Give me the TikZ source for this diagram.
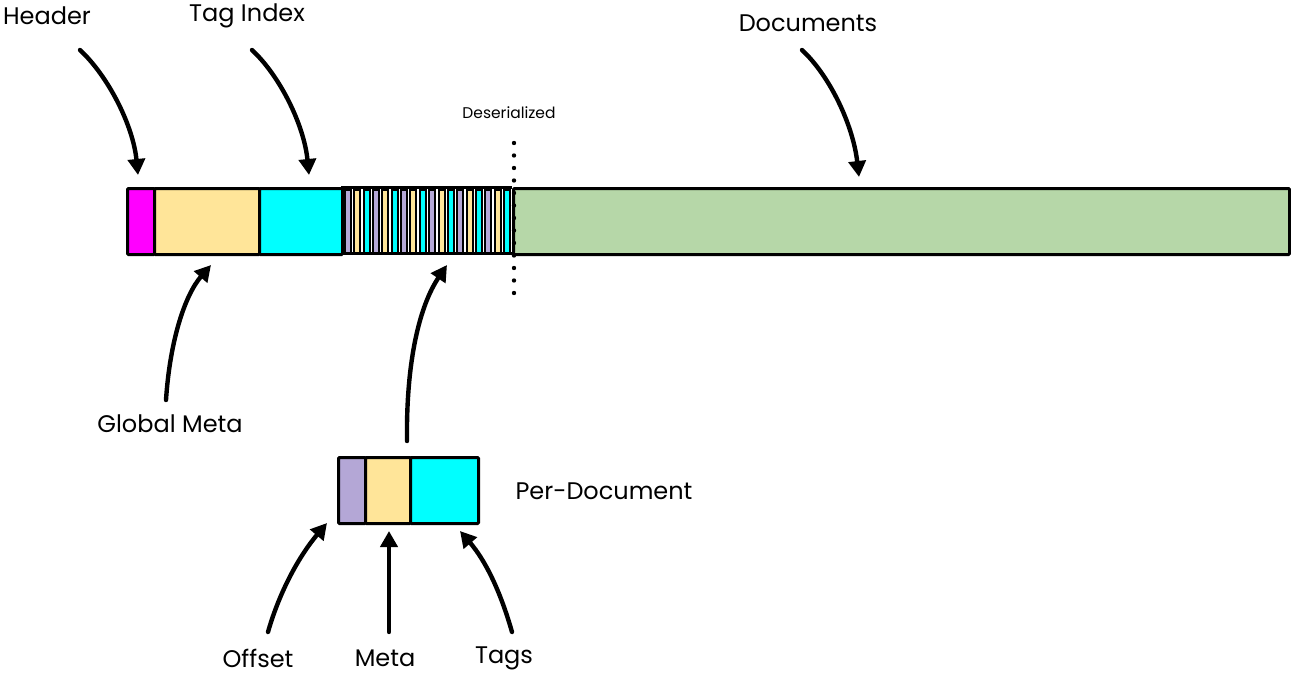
\documentclass[tikz,border=0pt]{standalone}
\usepackage{fontspec}
\setmainfont{Poppins}
\usetikzlibrary{arrows.meta,calc}
\definecolor{cMag}{HTML}{FF00FF}
\definecolor{cYel}{HTML}{FFE599}
\definecolor{cCya}{HTML}{00FFFF}
\definecolor{cPur}{HTML}{B4A7D6}
\definecolor{cGrn}{HTML}{B6D7A8}
\tikzset{
  blk/.style={draw=black, line width=3pt, inner sep=0pt, anchor=north west, rounded corners=1pt},
  stripe/.style={draw=black, line width=2pt, inner sep=0pt, anchor=north west, minimum width=6pt, minimum height=63pt},
  lbl/.style={font=\fontsize{24}{27}\selectfont, inner sep=0pt},
  small/.style={font=\fontsize{15.5}{18}\selectfont, inner sep=0pt},
  arr/.style={line width=4.4pt, line cap=round, -{Triangle[length=16pt,width=17pt]}},
}
\begin{document}
\begin{tikzpicture}[x=1pt,y=-1pt]
\useasboundingbox (0,0) rectangle (1291,677);
% main bar
\node[blk, fill=cMag, minimum width=27pt, minimum height=66pt] (hdr) at (126,187) {};
\node[blk, fill=cYel, minimum width=105pt, minimum height=66pt] (gmeta) at (153,187) {};
\node[blk, fill=cCya, minimum width=83pt, minimum height=66pt] (tidx) at (258,187) {};
\node[blk, fill=cGrn, minimum width=776pt, minimum height=66pt] (docs) at (512,187) {};
% striped per-document region
\node[draw=none, inner sep=0pt, anchor=north west, minimum width=171pt, minimum height=66pt] (perdocs) at (341,187) {};
\foreach \i/\c in {0/cPur,1/cYel,2/cCya,3/cPur,4/cYel,5/cCya,6/cPur,7/cYel,8/cCya,9/cPur,10/cYel,11/cCya,12/cPur,13/cYel,14/cCya,15/cPur,16/cYel,17/cCya}{
  \node[stripe, fill=\c] (s\i) at ({344+9.35*\i},188.5) {};
}
\draw[line width=3pt] (perdocs.north west) -- (perdocs.north east);
\draw[line width=3pt] (perdocs.south west) -- (perdocs.south east);
% deserialized dotted line
\node[small] (deser) at (509,113) {Deserialized};
\foreach \k in {0,...,12}{
  \fill (514,{143+12.5*\k}) circle (2.2pt);
}
% per-document detail
\node[blk, fill=cPur, minimum width=27pt, minimum height=66pt] (poff) at (337,456) {};
\node[blk, fill=cYel, minimum width=45pt, minimum height=66pt] (pmeta) at (364,456) {};
\node[blk, fill=cCya, minimum width=68pt, minimum height=66pt] (ptags) at (409,456) {};
% labels
\node[lbl] (lHeader) at (47,16) {Header};
\node[lbl] (lTag) at (247,16) {Tag Index};
\node[lbl] (lDocs) at (808,23) {Documents};
\node[lbl] (lGlobal) at (170,424) {Global Meta};
\node[lbl] (lPer) at (604,491) {Per-Document};
\node[lbl] (lOff) at (258,658) {Offset};
\node[lbl] (lMeta) at (385,658) {Meta};
\node[lbl] (lTags) at (504,658) {Tags};
% arrow end points
\coordinate (aH1) at (80,50);   \coordinate (aH2) at (138,175);
\coordinate (aT1) at (252,50);  \coordinate (aT2) at (309,175);
\coordinate (aD1) at (802,50);  \coordinate (aD2) at (859,177);
\coordinate (aG1) at (166,400); \coordinate (aG2) at (211,265);
\coordinate (aP1) at (407,441); \coordinate (aP2) at (447,265);
\coordinate (aO1) at (268,632); \coordinate (aO2) at (327,523);
\coordinate (aM1) at (389,632); \coordinate (aM2) at (389,531);
\coordinate (aS1) at (512,632); \coordinate (aS2) at (460,531);
% arrows
\draw[arr] (aH1) .. controls (108,76) and (133,125) .. (aH2);
\draw[arr] (aT1) .. controls (280,76) and (304,125) .. (aT2);
\draw[arr] (aD1) .. controls (830,76) and (853,125) .. (aD2);
\draw[arr] (aG1) .. controls (170,340) and (185,295) .. (aG2);
\draw[arr] (aP1) .. controls (406,360) and (420,305) .. (aP2);
\draw[arr] (aO1) .. controls (280,590) and (300,555) .. (aO2);
\draw[arr] (aM1) -- (aM2);
\draw[arr] (aS1) .. controls (500,590) and (485,560) .. (aS2);
\end{tikzpicture}
\end{document}
